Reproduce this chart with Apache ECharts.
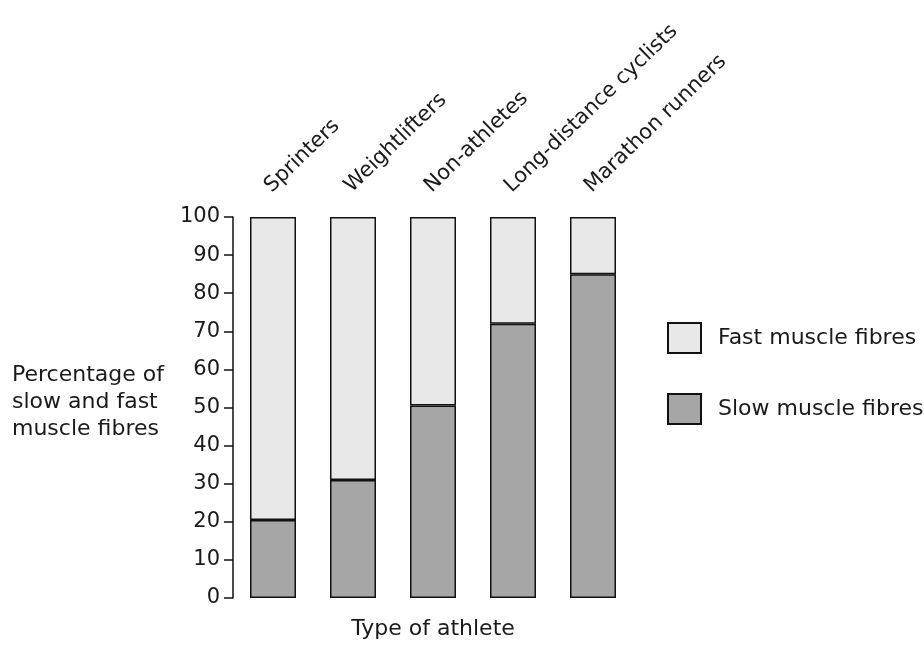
<!DOCTYPE html>
<html>
<head>
<meta charset="utf-8">
<script src="https://cdn.jsdelivr.net/npm/echarts@6/dist/echarts.min.js"></script>
<style>
html,body{margin:0;padding:0;background:#fff;}
#chart{width:924px;height:646px;}
</style>
</head>
<body>
<div id="chart"></div>
<script>
var categories = ['Sprinters', 'Weightlifters', 'Non-athletes', 'Long-distance cyclists', 'Marathon runners'];
var slowValues = [20.5, 31, 50.5, 72, 85];
var fastValues = [79.5, 69, 49.5, 28, 15];
var yTicks = [0, 10, 20, 30, 40, 50, 60, 70, 80, 90, 100];
var seriesNames = ['Slow muscle fibres', 'Fast muscle fibres'];

var FONT = 'DejaVu Sans';
var TXT = '#1a1a1a';
var chart = echarts.init(document.getElementById('chart'));
chart.setOption({
  backgroundColor: '#ffffff',
  animation: false,
  grid: [
    {left: 233, right: 291, top: 217, bottom: 48},
    {left: 228, right: 296, top: 217, bottom: 48}
  ],
  xAxis: [
    {
      type: 'category', gridIndex: 0, data: categories, position: 'bottom',
      axisLine: {show: false}, axisTick: {show: false}, axisLabel: {show: false},
      name: 'Type of athlete', nameLocation: 'middle', nameGap: 20,
      nameTextStyle: {fontFamily: FONT, fontSize: 22, color: TXT}
    },
    {
      type: 'category', gridIndex: 1, data: categories, position: 'top',
      axisLine: {show: false}, axisTick: {show: false},
      axisLabel: {rotate: 44, margin: 28, interval: 0, fontFamily: FONT, fontSize: 21, color: TXT}
    }
  ],
  yAxis: [
    {
      type: 'value', gridIndex: 0, min: yTicks[0], max: yTicks[yTicks.length - 1], interval: 10,
      splitLine: {show: false},
      axisLine: {show: true, lineStyle: {color: '#111', width: 1.5}},
      axisTick: {show: true, length: 9, lineStyle: {color: '#111', width: 1.5}},
      axisLabel: {margin: 13, fontFamily: FONT, fontSize: 21, color: TXT}
    },
    {
      type: 'value', gridIndex: 1, min: 0, max: 100, show: false
    }
  ],
  legend: {
    orient: 'vertical', left: 662, top: 317,
    data: [seriesNames[1], seriesNames[0]],
    icon: 'rect',
    itemWidth: 33, itemHeight: 30, itemGap: 39,
    textStyle: {fontFamily: FONT, fontSize: 22, color: TXT, padding: [0, 0, 0, 12]}
  },
  graphic: [{
    type: 'text', left: 12, top: 362,
    style: {
      text: 'Percentage of\nslow and fast\nmuscle fibres',
      font: '22px "DejaVu Sans"', fill: TXT, lineHeight: 27
    }
  }],
  series: [
    {
      name: seriesNames[0], type: 'bar', stack: 'total', data: slowValues, barWidth: 46,
      xAxisIndex: 0, yAxisIndex: 0,
      itemStyle: {color: '#a6a6a6', borderColor: '#111', borderWidth: 1.5}
    },
    {
      name: seriesNames[1], type: 'bar', stack: 'total', data: fastValues, barWidth: 46,
      xAxisIndex: 0, yAxisIndex: 0,
      itemStyle: {color: '#e8e8e8', borderColor: '#111', borderWidth: 1.5}
    }
  ]
});
</script>
</body>
</html>
